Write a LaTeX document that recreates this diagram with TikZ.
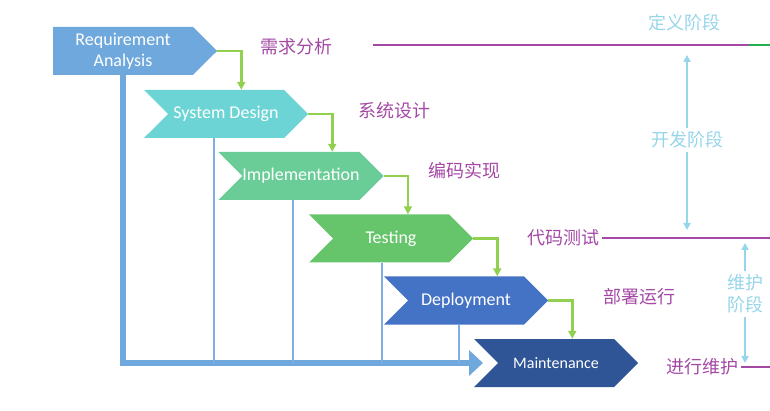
\documentclass[tikz,border=0pt]{standalone}
\usepackage{fontspec}
\setsansfont{Carlito}
\newfontfamily\cjk{Noto Sans CJK SC}
\usetikzlibrary{shapes, arrows.meta}
\definecolor{reqblue}{RGB}{111,168,220}
\definecolor{systeal}{RGB}{108,212,212}
\definecolor{impgreen}{RGB}{106,205,152}
\definecolor{testgreen}{RGB}{102,196,106}
\definecolor{depblue}{RGB}{68,114,196}
\definecolor{maintblue}{RGB}{47,85,151}
\definecolor{flowgreen}{RGB}{146,208,80}
\definecolor{backblue}{RGB}{111,168,220}
\definecolor{thinblue}{RGB}{128,174,228}
\definecolor{stagepurple}{RGB}{163,73,164}
\definecolor{periodblue}{RGB}{150,213,234}
\definecolor{edgegreen}{RGB}{34,177,76}
\tikzstyle{phase} = [signal, signal to=east, signal from=west, signal pointer angle=90, minimum width=164pt, minimum height=48pt, inner sep=0pt, text=white, font=\sffamily\fontsize{18}{21}\selectfont]
\tikzstyle{flow} = [draw=flowgreen, line width=2.5pt, -{Triangle[length=8pt,width=8pt]}]
\tikzstyle{backbar} = [draw=backblue, line width=6pt, -{Triangle[length=14pt,width=25pt]}]
\tikzstyle{backline} = [draw=thinblue, line width=2pt]
\tikzstyle{stage} = [text=stagepurple, inner sep=3pt, font=\cjk\fontsize{18}{22}\selectfont]
\tikzstyle{period} = [text=periodblue, inner sep=3pt, align=center, font=\cjk\fontsize{18}{22}\selectfont]
\tikzstyle{limit} = [draw=stagepurple, line width=2pt]
\tikzstyle{span} = [draw=periodblue, line width=2pt, -{Triangle[length=7pt,width=7pt]}]

\begin{document}
\begin{tikzpicture}[x=1pt,y=-1pt]
	\useasboundingbox (0,0) rectangle (770,411);
	\node[phase, signal from=nowhere, fill=reqblue, align=center] (req) at (123,51) {Requirement\\Analysis};
	\node[phase, fill=systeal] (sys) at (226,114) {System Design};
	\node[phase, fill=impgreen] (imp) at (301,176) {Implementation};
	\node[phase, fill=testgreen] (test) at (391,238.5) {Testing};
	\node[phase, fill=depblue] (dep) at (466,300.5) {Deployment};
	\node[phase, fill=maintblue, font=\sffamily\fontsize{16}{19}\selectfont] (maint) at (556,363) {Maintenance};
	\draw[backbar] (req.south) |- ([xshift=-73pt]maint.center);
	\foreach \n/\d in {sys/-12, imp/-8, test/-9, dep/-7}
		\draw[backline] ([xshift=\d pt]\n.south) coordinate (v) -- (v |- maint.center);
	\foreach \a/\b in {req/sys, sys/imp, imp/test, test/dep, dep/maint}
		\draw[flow] (\a.east) -- ++(24,0) coordinate (k) -- (k |- \b.north);
	\node[stage] (s1) at (296,47) {需求分析};
	\node[stage] (s2) at (394,111) {系统设计};
	\node[stage] (s3) at (464,171) {编码实现};
	\node[stage] (s4) at (563,238) {代码测试};
	\node[stage] (s5) at (639,297) {部署运行};
	\node[stage] (s6) at (702,367) {进行维护};
	\coordinate (a1) at (373,45);
	\coordinate (b1) at (749,45);
	\coordinate (c1) at (770,45);
	\draw[limit] (a1) -- (b1);
	\draw[limit, draw=edgegreen] (b1) -- (c1);
	\draw[limit] (s4.east) -- (s4.east -| c1) coordinate (c2);
	\draw[limit] (s6.east) -- (s6.east -| c1) coordinate (c3);
	\node[period] (def) at (684,23) {定义阶段};
	\node[period] (dev) at (687,140) {开发阶段};
	\node[period] (mnt) at (745,294) {维护\\阶段};
	\draw[span, shorten >=10pt] (dev.north) -- (dev.north |- a1);
	\draw[span, shorten >=8pt] (dev.south) -- (dev.south |- c2);
	\draw[span, shorten >=5pt] (mnt.north) -- (mnt.north |- c2);
	\draw[span, shorten >=4pt] (mnt.south) -- (mnt.south |- c3);
\end{tikzpicture}
\end{document}
